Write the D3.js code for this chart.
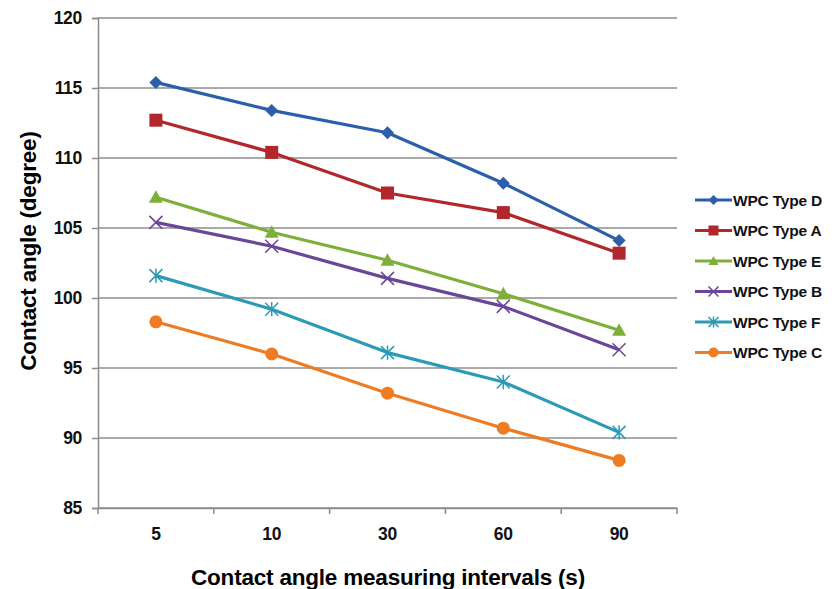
<!DOCTYPE html>
<html>
<head>
<meta charset="utf-8">
<script src="https://cdn.jsdelivr.net/npm/d3@7"></script>
<style>
  body { margin: 0; background: #fff; }
  text { font-family: "Liberation Sans", Arial, sans-serif; }
</style>
</head>
<body>
<div id="chart"></div>
<script>
// data
const intervals = ['5', '10', '30', '60', '90'];
const seriesNames = ['WPC Type D', 'WPC Type A', 'WPC Type E', 'WPC Type B', 'WPC Type F', 'WPC Type C'];
const typeD = [115.4, 113.4, 111.8, 108.2, 104.1];
const typeA = [112.7, 110.4, 107.5, 106.1, 103.2];
const typeE = [107.2, 104.7, 102.7, 100.3, 97.7];
const typeB = [105.4, 103.7, 101.4, 99.4, 96.3];
const typeF = [101.6, 99.2, 96.1, 94.0, 90.4];
const typeC = [98.3, 96.0, 93.2, 90.7, 88.4];
const yTicks = [85, 90, 95, 100, 105, 110, 115, 120];

const colors = ['#2C5FAB', '#B2272B', '#7FAF3B', '#6B4599', '#2B9AB8', '#EF7B23'];
const markers = ['diamond', 'square', 'triangle', 'x', 'star', 'circle'];
const allValues = [typeD, typeA, typeE, typeB, typeF, typeC];

const width = 834, height = 589;
const margin = {top: 18, right: 157, bottom: 81, left: 98};
const plotW = width - margin.left - margin.right;
const plotH = height - margin.top - margin.bottom;

const svg = d3.select('#chart').append('svg')
  .attr('width', width)
  .attr('height', height);

const plot = svg.append('g')
  .attr('transform', `translate(${margin.left},${margin.top})`);

const x = d3.scaleBand().domain(intervals).range([0, plotW]);
const y = d3.scaleLinear().domain([85, 120]).range([plotH, 0]);

// horizontal gridlines
plot.append('g')
  .selectAll('line')
  .data(yTicks)
  .join('line')
  .attr('x1', 0).attr('x2', plotW)
  .attr('y1', d => y(d)).attr('y2', d => y(d))
  .attr('stroke', '#8c8c8c')
  .attr('stroke-width', 1.5);

// y axis
const yAxis = plot.append('g')
  .call(d3.axisLeft(y).tickValues(yTicks).tickSize(6).tickPadding(10));
yAxis.select('.domain').attr('stroke', '#8c8c8c').attr('stroke-width', 1.5);
yAxis.selectAll('.tick line').attr('stroke', '#8c8c8c').attr('stroke-width', 1.5);
yAxis.selectAll('.tick text')
  .attr('font-size', 17.5).attr('font-weight', 'bold').attr('fill', '#111')
  .attr('letter-spacing', -0.3)
  .attr('font-family', '"Liberation Sans", Arial, sans-serif');

// x axis, ticks sit between categories
const xAxis = plot.append('g')
  .attr('transform', `translate(0,${plotH})`)
  .call(d3.axisBottom(x).tickSize(0).tickPadding(20));
xAxis.select('.domain').attr('stroke', '#8c8c8c').attr('stroke-width', 1.5);
xAxis.selectAll('.tick text')
  .attr('font-size', 17.5).attr('font-weight', 'bold').attr('fill', '#111')
  .attr('letter-spacing', -0.3)
  .attr('font-family', '"Liberation Sans", Arial, sans-serif');
xAxis.append('g')
  .selectAll('line')
  .data(intervals.concat(['end']))
  .join('line')
  .attr('x1', (d, i) => i * x.step()).attr('x2', (d, i) => i * x.step())
  .attr('y1', 0).attr('y2', 6)
  .attr('stroke', '#8c8c8c')
  .attr('stroke-width', 1.5);

function drawMarker(g, type, color, s) {
  if (type === 'diamond') {
    g.append('path').attr('d', `M0,${-s}L${s},0L0,${s}L${-s},0Z`).attr('fill', color);
  } else if (type === 'square') {
    g.append('rect').attr('x', -s).attr('y', -s).attr('width', 2 * s).attr('height', 2 * s).attr('fill', color);
  } else if (type === 'triangle') {
    g.append('path').attr('d', `M0,${-s}L${s},${s * 0.8}L${-s},${s * 0.8}Z`).attr('fill', color);
  } else if (type === 'x') {
    g.append('path').attr('d', `M${-s},${-s}L${s},${s}M${-s},${s}L${s},${-s}`)
      .attr('stroke', color).attr('stroke-width', 1.5).attr('fill', 'none');
  } else if (type === 'star') {
    g.append('path').attr('d', `M${-s},${-s}L${s},${s}M${-s},${s}L${s},${-s}M0,${-s * 1.1}L0,${s * 1.1}`)
      .attr('stroke', color).attr('stroke-width', 1.5).attr('fill', 'none');
  } else {
    g.append('circle').attr('r', s).attr('fill', color);
  }
}

const markerSize = [6.5, 6.5, 7, 6.5, 6.5, 6.5];

const line = d3.line()
  .x((d, i) => x(intervals[i]) + x.bandwidth() / 2)
  .y(d => y(d));

allValues.forEach((vals, si) => {
  const g = plot.append('g');
  g.append('path')
    .datum(vals)
    .attr('d', line)
    .attr('fill', 'none')
    .attr('stroke', colors[si])
    .attr('stroke-width', 3.2)
    .attr('stroke-linejoin', 'round');
  vals.forEach((v, i) => {
    const m = g.append('g')
      .attr('transform', `translate(${x(intervals[i]) + x.bandwidth() / 2},${y(v)})`);
    drawMarker(m, markers[si], colors[si], markerSize[si]);
  });
});

// legend
const legend = svg.append('g').attr('transform', 'translate(695,200)');
seriesNames.forEach((name, i) => {
  const row = legend.append('g').attr('transform', `translate(0,${i * 30.5})`);
  row.append('line')
    .attr('x1', 0).attr('x2', 37).attr('y1', 0).attr('y2', 0)
    .attr('stroke', colors[i]).attr('stroke-width', 3.2);
  const m = row.append('g').attr('transform', 'translate(18.5,0)');
  drawMarker(m, markers[i], colors[i], 5);
  row.append('text')
    .attr('x', 38).attr('y', 0).attr('dy', '0.36em')
    .attr('font-size', 15.5).attr('font-weight', 'bold').attr('fill', '#111')
    .attr('letter-spacing', -0.2)
    .text(name);
});

// axis titles
svg.append('text')
  .attr('x', 388).attr('y', 585)
  .attr('text-anchor', 'middle')
  .attr('font-size', 22.5).attr('font-weight', 'bold').attr('fill', '#000')
  .attr('letter-spacing', -0.2)
  .text('Contact angle measuring intervals (s)');

svg.append('text')
  .attr('transform', 'translate(36,251) rotate(-90)')
  .attr('text-anchor', 'middle')
  .attr('font-size', 22.5).attr('font-weight', 'bold').attr('fill', '#000')
  .attr('letter-spacing', -0.2)
  .text('Contact angle (degree)');
</script>
</body>
</html>
